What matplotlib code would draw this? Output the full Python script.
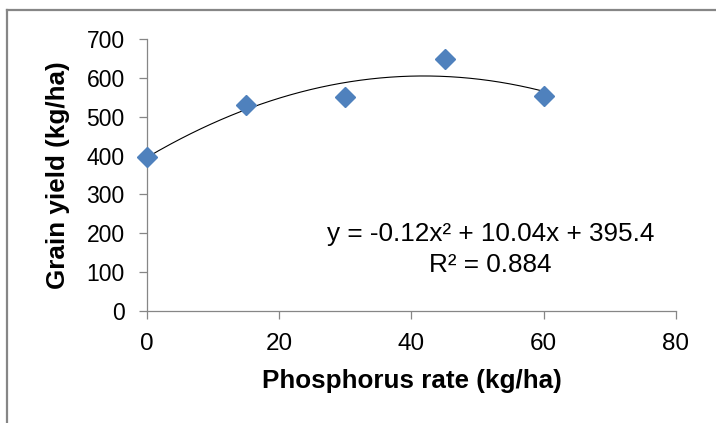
import numpy as np
import matplotlib
matplotlib.use('Agg')
import matplotlib.pyplot as plt
from matplotlib.lines import Line2D

plt.rcParams['font.family'] = ['Liberation Sans', 'DejaVu Sans']

# data
phosphorus_rate = [0, 15, 30, 45, 60]
grain_yield = [397, 530, 551, 650, 555]

# trendline coefficients as printed on the chart (a*x^2 + b*x + c)
trend_coefs = [-0.12, 10.04, 395.4]
r_squared = 0.884

x_ticks = [0, 20, 40, 60, 80]
y_ticks = [0, 100, 200, 300, 400, 500, 600, 700]

axis_grey = '#868686'
marker_blue = '#4F81BD'

fig = plt.figure(figsize=(7.16, 4.23), dpi=100)
ax = fig.add_axes([0.2053, 0.2655, 0.7388, 0.6416])

# trendline over the data range
x_fit = np.linspace(min(phosphorus_rate), max(phosphorus_rate), 200)
y_fit = np.polyval(trend_coefs, x_fit)
ax.plot(x_fit, y_fit, color='black', lw=0.8, zorder=2)

ax.plot(phosphorus_rate, grain_yield, linestyle='none', marker='D',
        markersize=10.5, color=marker_blue, markeredgecolor=marker_blue,
        zorder=3, clip_on=False)

ax.set_xlim(0, 80)
ax.set_ylim(0, 700)
ax.set_xticks(x_ticks)
ax.set_yticks(y_ticks)

for side in ['top', 'right']:
    ax.spines[side].set_visible(False)
for side in ['left', 'bottom']:
    ax.spines[side].set_color(axis_grey)
    ax.spines[side].set_linewidth(0.9)

ax.tick_params(axis='both', direction='out', length=6, width=0.9,
               color=axis_grey, labelcolor='black')
ax.tick_params(axis='y', labelsize=16.5, pad=10)
ax.tick_params(axis='x', labelsize=17.5, pad=10)

ax.set_xlabel('Phosphorus rate (kg/ha)', fontsize=18.7, fontweight='bold')
ax.set_ylabel('Grain yield (kg/ha)', fontsize=18.7, fontweight='bold')
ax.xaxis.label.set_va('center')
ax.yaxis.label.set_va('center')
ax.xaxis.set_label_coords(0.5, -0.259)
ax.yaxis.set_label_coords(-0.168, 0.5)

# trendline equation
eq_text = 'y = {:.2f}x\u00b2 + {:.2f}x + {:.1f}'.format(*trend_coefs)
ax.text(0.649, 0.281, eq_text, transform=ax.transAxes, fontsize=18.8,
        ha='center', va='center')
ax.text(0.649, 0.169, 'R\u00b2 = {:.3f}'.format(r_squared),
        transform=ax.transAxes, fontsize=18.8, ha='center', va='center')

# chart area border (left and top visible)
fig.add_artist(Line2D([7 / 716, 7 / 716], [0, 1 - 10 / 423],
                      transform=fig.transFigure, color=axis_grey, lw=1.6))
fig.add_artist(Line2D([7 / 716, 1], [1 - 10 / 423, 1 - 10 / 423],
                      transform=fig.transFigure, color=axis_grey, lw=1.6))

fig.savefig('out.png', dpi=100)
